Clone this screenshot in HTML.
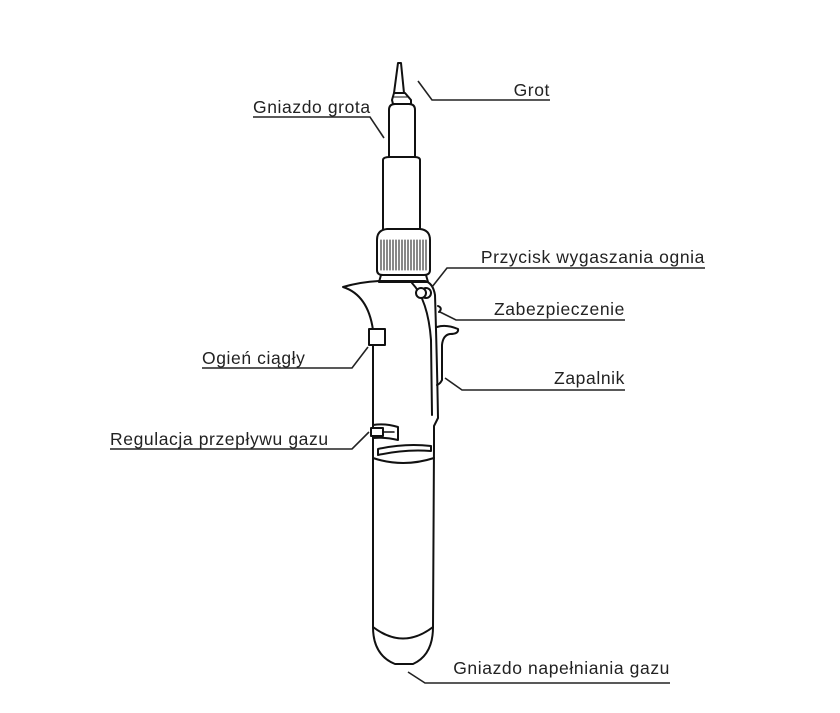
<!DOCTYPE html>
<html><head><meta charset="utf-8"><style>
html,body{margin:0;padding:0;background:#fff;}
svg{display:block}
text{font-family:"Liberation Sans",sans-serif;font-size:17.5px;letter-spacing:0.6px;fill:#222;}
</style></head><body>
<svg width="840" height="713" viewBox="0 0 840 713" xmlns="http://www.w3.org/2000/svg">
<g fill="none" stroke="#111" stroke-width="2" stroke-linejoin="round" stroke-linecap="round">
<path d="M398,63 L394,93 L404,93 L401,63 Z" fill="#fff"/>
<path d="M394,93 L392,100 L393,104 L411,104 L411,100 L405,93 Z" fill="#fff"/>
<line x1="393" y1="97" x2="409" y2="97" stroke-width="1"/>
<path d="M389,157 L389,110 Q389,104 395,104 L409,104 Q415,104 415,110 L415,157" fill="#fff"/>
<path d="M383,230 L383,160 Q383,157 390,157 L414,157 Q420,157 420,160 L420,230" fill="#fff"/>
<path d="M377,240 Q377,230 387,229 L420,229 Q430,230 430,240 L430,270 Q430,275 424,275 L383,275 Q377,275 377,270 Z" fill="#fff"/>
<g stroke-width="1">
<line x1="381" y1="240" x2="381" y2="270"/><line x1="384" y1="240" x2="384" y2="270"/><line x1="387" y1="240" x2="387" y2="270"/><line x1="390" y1="240" x2="390" y2="270"/><line x1="393" y1="240" x2="393" y2="270"/><line x1="396" y1="240" x2="396" y2="270"/><line x1="399" y1="240" x2="399" y2="270"/><line x1="402" y1="240" x2="402" y2="270"/><line x1="405" y1="240" x2="405" y2="270"/><line x1="408" y1="240" x2="408" y2="270"/><line x1="411" y1="240" x2="411" y2="270"/><line x1="414" y1="240" x2="414" y2="270"/><line x1="417" y1="240" x2="417" y2="270"/><line x1="420" y1="240" x2="420" y2="270"/><line x1="423" y1="240" x2="423" y2="270"/><line x1="426" y1="240" x2="426" y2="270"/>
</g>
<path d="M381,275 L379,282 L428,282 L426,275"/>
<path d="M379,281 Q360,282 343,287 Q368,295 373,330 L373,345 L373,425 L373,627" />
<path d="M379,281 L425,281 Q433,283 435,295 Q437,360 438,418 L434,426 L434,445"/>
<path d="M412,283 Q428,300 431,340 L432,415"/>
<circle cx="426" cy="293" r="5" fill="#fff"/>
<circle cx="421" cy="293" r="5" fill="#fff"/>
<path d="M438,306 Q443,308 439,312"/>
<path d="M437,327 Q446,324 458,329 Q459,334 450,334 Q443,335 442,345 L442,380 Q440,384 437,385"/>
<rect x="369" y="329" width="16" height="16" fill="#fff"/>
<path d="M373,425 Q385,423 398,427 L398,440 Q385,437 373,438" />
<rect x="371" y="428" width="12" height="8" fill="#fff"/>
<line x1="383" y1="432" x2="394" y2="432" stroke-width="1.5"/>
<path d="M378,449 Q405,443 431,446 L431,451 Q405,449 378,455 Z"/>
<path d="M373,458 Q403,468 434,458"/>
<path d="M434,445 L433,627 Q433,655 413,664 L395,664 Q373,655 373,627"/>
<path d="M373,627 Q403,650 433,627"/>
</g>
<g fill="none" stroke="#222" stroke-width="1.6">
<polyline points="418,81 432,100 550,100"/>
<polyline points="253,117 370,117 384,138"/>
<polyline points="432,287 447,268 705,268"/>
<polyline points="440,312 456,320 625,320"/>
<polyline points="445,378 462,390 625,390"/>
<polyline points="202,368 352,368 368,347"/>
<polyline points="110,449 352,449 369,432"/>
<polyline points="408,672 425,683 670,683"/>
</g>
<g>
<text x="550" y="96" text-anchor="end">Grot</text>
<text x="253" y="113">Gniazdo grota</text>
<text x="705" y="263" text-anchor="end">Przycisk wygaszania ognia</text>
<text x="625" y="315" text-anchor="end">Zabezpieczenie</text>
<text x="625" y="384" text-anchor="end">Zapalnik</text>
<text x="202" y="364">Ogień ciągły</text>
<text x="110" y="445">Regulacja przepływu gazu</text>
<text x="670" y="674" text-anchor="end">Gniazdo napełniania gazu</text>
</g>
</svg>
</body></html>
